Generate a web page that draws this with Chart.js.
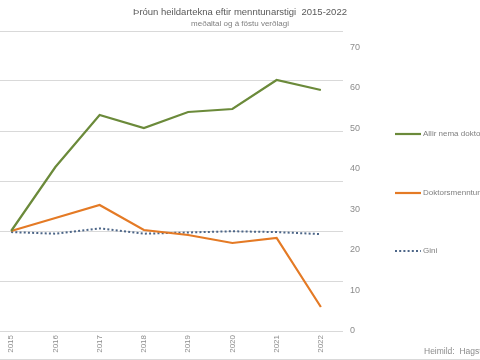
<!DOCTYPE html>
<html lang="is">
<head>
    <meta charset="UTF-8">
    <title>Þróun heildartekna eftir menntunarstigi 2015-2022</title>
    <style>
        html, body {
            margin: 0;
            padding: 0;
            background: #fff;
            overflow: hidden;
            width: 480px;
            height: 360px;
        }
        .wrap {
            position: absolute;
            left: -11px;
            top: 0;
            width: 502px;
            height: 360px;
        }
    </style>
</head>
<body>
    <div class="wrap"><canvas id="chart"></canvas></div>

    <script src="https://cdn.jsdelivr.net/npm/chart.js"></script>

    <script>
        // gögn lesin af myndinni
        const years = ['2015', '2016', '2017', '2018', '2019', '2020', '2021', '2022'];
        const allirNema = [100, 164, 216, 203, 219, 222, 251, 241];   // vísitala, vinstri ás
        const doktors = [100, 113, 126, 101, 96, 88, 93, 24];         // vísitala, vinstri ás
        const gini = [24.4, 24.0, 25.3, 24.0, 24.3, 24.6, 24.4, 23.9]; // hægri ás

        const seriesLabels = ['Allir nema doktorsmenntun', 'Doktorsmenntun', 'Gini'];
        const rightTicks = [0, 10, 20, 30, 40, 50, 60, 70];

        const fontFam = '"Liberation Sans", Arial, sans-serif';

        // teiknar skýringar og heimild hægra megin
        const sidePlugin = {
            id: 'sidePlugin',
            afterDraw(chart) {
                const ctx = chart.ctx;
                const rows = [134, 193, 251];
                ctx.save();
                chart.data.datasets.forEach((ds, i) => {
                    const y = rows[i];
                    ctx.beginPath();
                    ctx.strokeStyle = ds.borderColor;
                    ctx.lineWidth = ds.borderWidth;
                    ctx.setLineDash(ds.borderDash || []);
                    ctx.moveTo(406, y);
                    ctx.lineTo(432, y);
                    ctx.stroke();
                    ctx.setLineDash([]);
                    ctx.fillStyle = '#7f7f7f';
                    ctx.font = '8px ' + fontFam;
                    ctx.textBaseline = 'middle';
                    ctx.textAlign = 'left';
                    ctx.fillText(ds.label, 434, y);
                });
                ctx.font = '8.5px ' + fontFam;
                ctx.fillStyle = '#8c8c8c';
                ctx.fillText('Heimild:  Hagstofa Íslands', 435, 352);

                ctx.strokeStyle = '#d9d9d9';
                ctx.lineWidth = 1;
                ctx.beginPath();
                ctx.moveTo(0, 359.5);
                ctx.lineTo(chart.width, 359.5);
                ctx.stroke();
                ctx.restore();
            }
        };

        new Chart(document.getElementById('chart'), {
            type: 'line',
            data: {
                labels: years,
                datasets: [
                    {
                        label: seriesLabels[0],
                        data: allirNema,
                        yAxisID: 'y',
                        borderColor: '#6b8a3a',
                        borderWidth: 2.2,
                        pointRadius: 0,
                        tension: 0
                    },
                    {
                        label: seriesLabels[1],
                        data: doktors,
                        yAxisID: 'y',
                        borderColor: '#e47a25',
                        borderWidth: 2.2,
                        pointRadius: 0,
                        tension: 0
                    },
                    {
                        label: seriesLabels[2],
                        data: gini,
                        yAxisID: 'y1',
                        borderColor: '#4d6688',
                        borderWidth: 2,
                        borderDash: [2, 2.2],
                        borderCapStyle: 'butt',
                        pointRadius: 0,
                        tension: 0
                    }
                ]
            },
            options: {
                responsive: true,
                maintainAspectRatio: false,
                animation: false,
                layout: { padding: 0 },
                plugins: {
                    legend: { display: false },
                    tooltip: { enabled: false },
                    title: {
                        display: true,
                        text: 'Þróun heildartekna eftir menntunarstigi  2015-2022',
                        color: '#595959',
                        font: { family: fontFam, size: 9.5, weight: 'normal' },
                        padding: { top: 7, bottom: 0 }
                    },
                    subtitle: {
                        display: true,
                        text: 'meðaltal og á föstu verðlagi',
                        color: '#7f7f7f',
                        font: { family: fontFam, size: 8 },
                        padding: { top: 1, bottom: 2 }
                    }
                },
                scales: {
                    x: {
                        offset: true,
                        grid: { display: false, drawTicks: false },
                        border: { display: false },
                        ticks: {
                            color: '#8c8c8c',
                            font: { family: fontFam, size: 8 },
                            minRotation: 90,
                            maxRotation: 90,
                            padding: 4
                        },
                        afterFit(scale) { scale.height = 29; }
                    },
                    y: {
                        position: 'left',
                        min: 0,
                        max: 300,
                        ticks: { display: false, stepSize: 50 },
                        grid: { color: '#d9d9d9', lineWidth: 1, drawTicks: false },
                        border: { display: false },
                        afterFit(scale) { scale.width = 0; }
                    },
                    y1: {
                        position: 'right',
                        min: 0,
                        max: 74,
                        grid: { display: false, drawTicks: false },
                        border: { display: false },
                        ticks: {
                            color: '#8c8c8c',
                            font: { family: fontFam, size: 9 },
                            padding: 7
                        },
                        afterBuildTicks(scale) {
                            scale.ticks = rightTicks.map(v => ({ value: v }));
                        },
                        afterFit(scale) { scale.width = 148; }
                    }
                }
            },
            plugins: [sidePlugin]
        });
    </script>
</body>
</html>
